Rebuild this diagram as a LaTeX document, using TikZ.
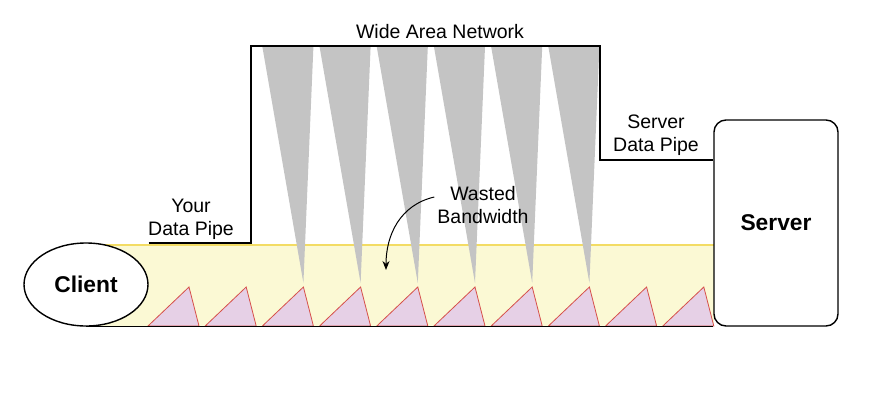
\documentclass[tikz,border=0pt]{standalone}
\usepackage{fontspec}
\setmainfont{Liberation Sans}
\usetikzlibrary{shapes.geometric,arrows.meta}
\definecolor{pipeyellow}{RGB}{251,249,212}
\definecolor{pipeedge}{RGB}{243,220,100}
\definecolor{packetpink}{RGB}{230,208,230}
\definecolor{packetred}{RGB}{214,80,74}
\definecolor{wastegray}{RGB}{196,196,196}
\tikzstyle{host}=[draw, line width=1.4pt, fill=white, font=\fontsize{22.8}{26}\selectfont\bfseries]
\tikzstyle{pipe}=[line width=1.5pt]
\tikzstyle{labelsty}=[font=\fontsize{19.5}{23}\selectfont, align=center, inner sep=0pt]
\tikzstyle{packet}=[fill=packetpink, draw=packetred, line width=0.8pt]
\tikzstyle{waste}=[fill=wastegray]

\begin{document}
\begin{tikzpicture}[x=1pt,y=-1pt]
	\useasboundingbox (0,0) rectangle (871,405);
	
	% the pipe between client and server
	\fill[pipeyellow] (86,245) rectangle (714,326);
	\draw[pipeedge,line width=1.2pt] (100,245) -- (714,245);
	
	\foreach \k in {0,...,9}{
		\pgfmathsetmacro\p{189+57.2*\k}
		\draw[packet] (\p-41,326) -- (\p,287) -- (\p+10,326) -- cycle;
	}
	\foreach \k in {2,...,7}{
		\pgfmathsetmacro\p{189+57.2*\k}
		\fill[waste] (\p-41,47) -- (\p+10,47) -- (\p,283) -- cycle;
	}
	
	\node[host,ellipse,minimum width=124pt,minimum height=83pt,inner sep=0pt] (client) at (86,284.5) {Client};
	\node[host,rectangle,rounded corners=12pt,minimum width=124pt,minimum height=206pt] (server) at (776,223) {Server};
	
	\draw[pipe] (client.south) -- (server.south west);
	\draw[pipe] (client.east |- 0,243) -- (251,243) -- (251,46) -- (600,46) -- (600,160) -- (server.west |- 0,160);
	
	\node[labelsty] (wan) at (440,32) {Wide Area Network};
	\node[labelsty] (yourpipe) at (191,219.5) {Your\\Data Pipe};
	\node[labelsty] (serverpipe) at (656,135) {Server\\Data Pipe};
	\node[labelsty] (wasted) at (483,205) {Wasted\\Bandwidth};
	\coordinate (gap) at (386,270);
	
	\draw[line width=1pt,-{Stealth[length=9pt,width=7pt]}] ([xshift=-3pt,yshift=8pt]wasted.west) .. controls (400,205) and (386,235) .. (gap);
\end{tikzpicture}
\end{document}
